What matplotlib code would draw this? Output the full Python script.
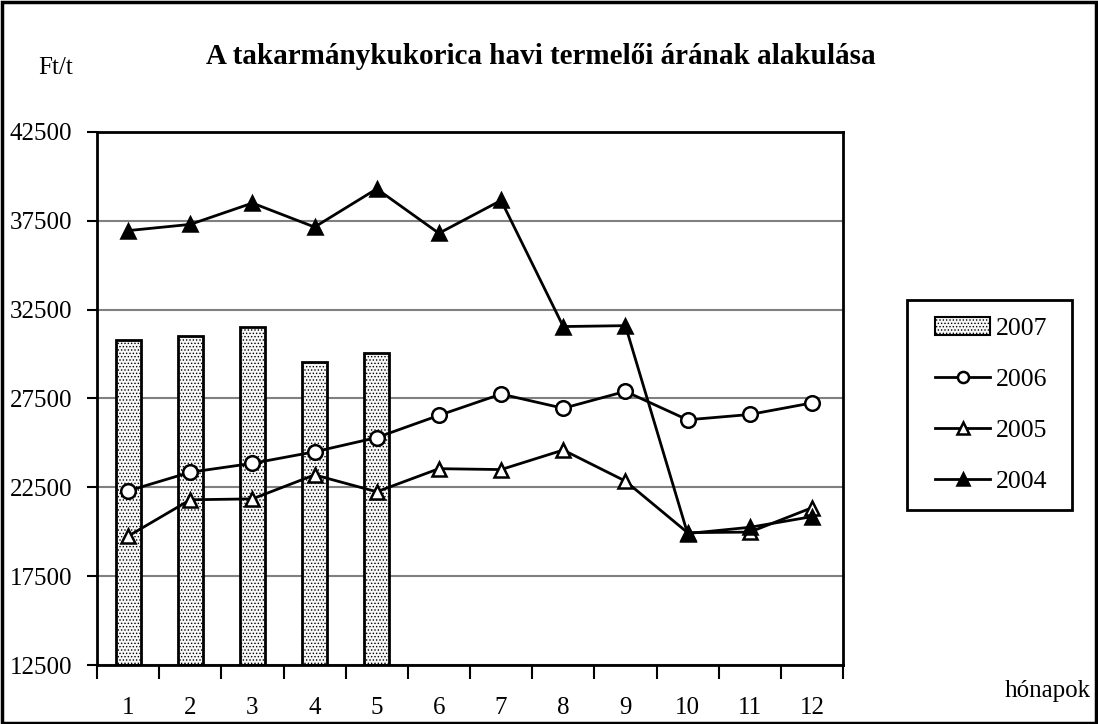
import numpy as np
import matplotlib.pyplot as plt
from matplotlib.patches import Rectangle

plt.rcParams['font.family'] = ['Liberation Serif', 'DejaVu Serif']
plt.rcParams['hatch.color'] = '#7a7a7a'
plt.rcParams['hatch.linewidth'] = 0.6

# havi termelői árak (Ft/t)
months = np.arange(1, 13)
month_labels = [str(m) for m in months]
price_2007 = [30800, 31000, 31500, 29550, 30050]
price_2006 = [22300, 23350, 23850, 24500, 25300, 26550, 27750, 26950, 27900, 26300, 26600, 27250]
price_2005 = [19750, 21800, 21850, 23200, 22250, 23550, 23500, 24600, 22850, 19950, 19980, 21350]
price_2004 = [36950, 37300, 38500, 37150, 39300, 36800, 38650, 31550, 31600, 19900, 20250, 20850]
yticks = [12500, 17500, 22500, 27500, 32500, 37500, 42500]

W, H = 1098, 724
fig = plt.figure(figsize=(W / 100, H / 100), dpi=100)
ax = fig.add_axes([97 / W, 1 - 665 / H, 746 / W, 533 / H])

# bárok 2007
ax.bar(months[:len(price_2007)], [v - 12500 for v in price_2007], bottom=12500,
       width=0.4, facecolor='#f7f7f7', edgecolor='black', linewidth=2,
       hatch='.....', zorder=2)

line_kw = dict(color='black', lw=2, markersize=10.5, markeredgewidth=1.8, zorder=4)
ax.plot(months, price_2006, marker='o', markerfacecolor='white', **line_kw)
ax.plot(months, price_2005, marker='^', markerfacecolor='white', **line_kw)
ax.plot(months, price_2004, marker='^', markerfacecolor='black', **line_kw)

ax.set_xlim(0.5, 12.5)
ax.set_ylim(12500, 42500)
ax.set_yticks(yticks)
ax.set_yticklabels([str(t) for t in yticks])
ax.set_xticks(months)
ax.set_xticklabels(month_labels)
ax.set_xticks(np.arange(0.5, 13, 1), minor=True)
ax.tick_params(axis='x', which='major', length=0, pad=23, labelsize=18)
ax.tick_params(axis='x', which='minor', length=10, width=1.5, direction='out')
ax.tick_params(axis='y', length=7, width=1.5, direction='out', pad=11, labelsize=18)

ax.grid(axis='y', color='#808080', lw=1.5, zorder=1)
ax.set_axisbelow(True)
for s in ax.spines.values():
    s.set_linewidth(2)

fig.text(541 / W, 1 - 57 / H, 'A takarmánykukorica havi termelői árának alakulása',
         ha='center', va='center', fontsize=21, fontweight='bold')
fig.text(56 / W, 1 - 68 / H, 'Ft/t', ha='center', va='center', fontsize=18)
fig.text(1048 / W, 1 - 691 / H, 'hónapok', ha='center', va='center', fontsize=18)

# jelmagyarázat
handles = [
    Rectangle((0, 0), 1, 1, facecolor='#f7f7f7', edgecolor='black', lw=1.5, hatch='.....'),
    plt.Line2D([], [], color='black', lw=2, marker='o', markerfacecolor='white', markersize=8, markeredgewidth=1.8),
    plt.Line2D([], [], color='black', lw=2, marker='^', markerfacecolor='white', markersize=9, markeredgewidth=1.8),
    plt.Line2D([], [], color='black', lw=2, marker='^', markerfacecolor='black', markersize=9, markeredgewidth=1.8),
]
leg = fig.legend(handles, ['2007', '2006', '2005', '2004'],
                 loc='center left', bbox_to_anchor=(935 / W, 1 - 405 / H),
                 fontsize=18.5, frameon=False,
                 handlelength=2.15, handletextpad=0.2, labelspacing=1.08,
                 borderpad=0, borderaxespad=0)
fig.patches.append(Rectangle((907 / W, 1 - 510 / H), 165 / W, 210 / H, transform=fig.transFigure,
                             fill=False, edgecolor='black', lw=2))

# keret
fig.patches.append(Rectangle((0.002, 0.002), 0.996, 0.995, transform=fig.transFigure,
                             fill=False, edgecolor='black', lw=2.5))

fig.savefig('out.png', dpi=100)
